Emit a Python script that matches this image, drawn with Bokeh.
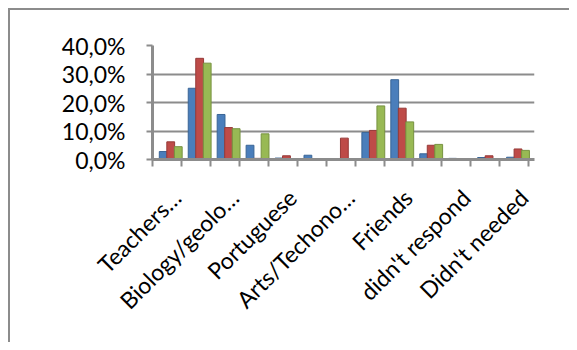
import math
from bokeh.plotting import figure
from bokeh.models import ColumnDataSource, FixedTicker, Range1d
from bokeh.transform import dodge
from bokeh.embed import file_html
from bokeh.resources import INLINE

# 13 categories; only every other one is labelled in the reference
category_index = [1, 2, 3, 4, 5, 6, 7, 8, 9, 10, 11, 12, 13]
shown_labels = {1: "Teachers…", 3: "Biology/geolo…", 5: "Portuguese",
                7: "Arts/Techono…", 9: "Friends", 11: "didn't respond",
                13: "Didn't needed"}

# percentages per series
series_blue = [2.8, 25.0, 15.8, 5.0, 0.5, 1.5, 0.2, 9.5, 28.0, 2.0, 0.4, 0.7, 0.8]
series_red = [6.2, 35.5, 11.2, 0.4, 1.3, 0.2, 7.5, 10.2, 18.0, 5.0, 0.2, 1.3, 3.7]
series_green = [4.5, 33.8, 10.8, 9.0, 0.2, 0.2, 0.1, 18.8, 13.2, 5.3, 0.1, 0.2, 3.2]

y_ticks = [0, 10, 20, 30, 40]
y_tick_labels = ["0,0%", "10,0%", "20,0%", "30,0%", "40,0%"]

src = ColumnDataSource(dict(x=category_index, blue=series_blue,
                            red=series_red, green=series_green))

p = figure(width=561, height=334, output_backend="svg", toolbar_location=None,
           x_range=Range1d(0.5, 13.7), y_range=Range1d(0, 40),
           min_border_left=142, min_border_right=37, min_border_top=35,
           min_border_bottom=185)
p.styles = {"border-top": "2px solid #8c8c8c", "border-left": "2px solid #8c8c8c",
            "margin-left": "8px", "margin-top": "8px"}
p.outline_line_color = None
p.background_fill_color = "white"
p.border_fill_color = "white"

bw = 0.27
for key, off, fill, line in [("blue", -0.13, "#4A7EBB", "#3A6596"),
                             ("red", 0.13, "#BE4B48", "#963A38"),
                             ("green", 0.39, "#98B954", "#779240")]:
    p.vbar(x=dodge("x", off, range=p.x_range), top=key, width=bw, bottom=0,
           source=src, fill_color=fill, line_color=line, line_width=1)

# y axis
p.yaxis.ticker = FixedTicker(ticks=y_ticks)
p.yaxis.major_label_overrides = {t: l for t, l in zip(y_ticks, y_tick_labels)}
p.yaxis.axis_line_color = "#8c8c8c"
p.yaxis.axis_line_width = 3
p.yaxis.major_tick_line_color = "#8c8c8c"
p.yaxis.major_tick_line_width = 2
p.yaxis.major_tick_out = 6
p.yaxis.major_tick_in = 0
p.yaxis.minor_tick_line_color = None
p.yaxis.major_label_text_font = "Lato"
p.yaxis.major_label_text_font_size = "23px"
p.yaxis.major_label_text_color = "black"
p.yaxis.major_label_standoff = 21

p.ygrid.ticker = FixedTicker(ticks=y_ticks)
p.ygrid.grid_line_color = "#8c8c8c"
p.ygrid.grid_line_width = 2
p.xgrid.grid_line_color = None

# x axis: labels at every other category, ticks at category boundaries
label_off = 0.33
p.xaxis.ticker = FixedTicker(ticks=[k + label_off for k in shown_labels],
                             minor_ticks=[i + 0.5 for i in range(0, 14)])
p.xaxis.major_label_overrides = {k + label_off: v for k, v in shown_labels.items()}
p.xaxis.major_label_orientation = math.pi / 4
p.xaxis.major_tick_line_color = None
p.xaxis.minor_tick_line_color = "#8c8c8c"
p.xaxis.minor_tick_line_width = 2
p.xaxis.minor_tick_out = 7
p.xaxis.minor_tick_in = 0
p.xaxis.axis_line_color = "#8c8c8c"
p.xaxis.axis_line_width = 3
p.xaxis.major_label_text_font = "Lato"
p.xaxis.major_label_text_font_size = "23px"
p.xaxis.major_label_text_color = "black"
p.xaxis.major_label_standoff = 27

open("out.html", "w").write(file_html(p, INLINE))
